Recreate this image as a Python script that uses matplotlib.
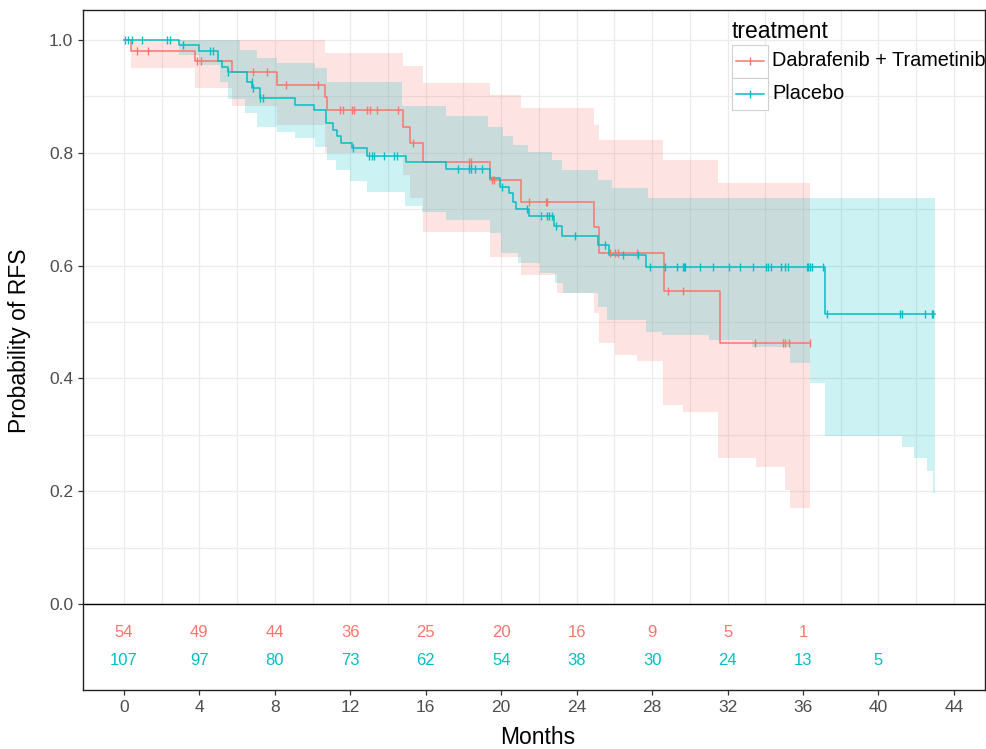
import numpy as np
import matplotlib
matplotlib.use('Agg')
import matplotlib.pyplot as plt
from matplotlib.lines import Line2D
from matplotlib.patches import Rectangle

plt.rcParams['font.family'] = ['Liberation Sans', 'DejaVu Sans']

# Kaplan-Meier curves (step times, survival after step)
red_t = [0, 0.4, 3.77, 5.71, 8.1, 10.66, 10.75, 14.77, 15.16, 15.87, 19.4, 21.03,
         24.9, 25.2, 28.63, 31.6, 36.37]
red_s = [1.0, 0.981, 0.962, 0.943, 0.920, 0.898, 0.876, 0.846, 0.817, 0.784, 0.752,
         0.712, 0.669, 0.623, 0.554, 0.463, 0.463]

blue_t = [0, 2.92, 3.98, 5.0, 5.2, 5.5, 6.5, 6.8, 7.2, 9.07, 10.1, 10.7, 11.1, 11.3,
          11.5, 12.1, 12.9, 14.95, 17.1, 19.4, 19.96, 20.4, 20.64, 20.8, 21.5, 22.8,
          23.2, 25.15, 25.7, 27.7, 37.17, 43.0]
blue_s = [1.0, 0.991, 0.981, 0.962, 0.952, 0.943, 0.925, 0.915, 0.897, 0.884, 0.875,
          0.853, 0.840, 0.829, 0.818, 0.808, 0.794, 0.783, 0.771, 0.755, 0.740, 0.728,
          0.713, 0.700, 0.687, 0.670, 0.652, 0.637, 0.619, 0.598, 0.514, 0.514]

# censoring times
red_cens = [0.67, 1.3, 3.85, 4.1, 6.86, 7.57, 8.57, 10.3, 11.45, 11.6, 12.07, 12.2,
            12.86, 13.04, 13.43, 14.55, 15.3, 18.3, 18.4, 19.5, 19.6, 21.5, 22.4, 22.45,
            25.77, 26.03, 26.2, 27.2, 28.86, 29.62, 33.46, 34.96, 35.05, 35.28, 36.37]
blue_cens = [0.05, 0.23, 0.41, 0.94, 2.26, 2.44, 3.15, 4.56, 4.74, 5.53, 6.77, 6.86,
             7.21, 7.35, 12.16, 13.0, 13.13, 13.25, 13.78, 14.32, 14.46, 17.73, 18.31,
             18.38, 18.61, 18.96, 20.03, 21.35, 22.09, 22.41, 22.55, 22.67, 22.9, 23.9,
             25.5, 26.48, 27.27, 27.89, 28.69, 29.3, 29.62, 29.69, 29.75, 30.54, 31.21,
             32.09, 32.66, 33.33, 34.04, 34.16, 34.29, 34.82, 35.05, 35.22, 36.23, 36.28,
             36.37, 36.46, 37.04, 37.26, 41.15, 41.23, 42.47, 42.83, 42.91]

# confidence bands
red_band_t = [0, 0.4, 3.77, 5.71, 8.1, 10.66, 14.77, 15.16, 15.87, 19.4, 21.03, 22.94,
              24.9, 25.2, 26.03, 27.2, 28.6, 29.66, 31.5, 33.5, 35.05, 35.3, 36.37]
red_upper = [1.0, 1.0, 1.0, 1.0, 1.0, 0.976, 0.953, 0.953, 0.923, 0.902, 0.879, 0.879,
             0.85, 0.823, 0.823, 0.823, 0.787, 0.787, 0.746, 0.746, 0.746, 0.746, 0.746]
red_lower = [1.0, 0.95, 0.914, 0.882, 0.85, 0.80, 0.76, 0.72, 0.66, 0.616, 0.583, 0.551,
             0.516, 0.462, 0.441, 0.43, 0.353, 0.341, 0.258, 0.243, 0.202, 0.17, 0.17]

blue_band_t = [0, 2.92, 3.98, 5.09, 5.5, 6.15, 6.42, 7.03, 8.1, 9.07, 10.13, 10.75,
               11.25, 12.0, 12.87, 14.72, 14.9, 15.8, 17.1, 19.32, 19.4, 20.0, 20.11,
               20.64, 20.9, 21.44, 22.06, 22.68, 22.85, 23.21, 23.3, 25.15, 25.6, 25.86,
               27.7, 27.8, 28.5, 31.0, 33.3, 35.3, 36.37, 37.17, 41.25, 41.9, 42.56,
               42.91, 43.0]
blue_upper = [1.0, 1.0, 1.0, 1.0, 1.0, 0.982, 0.982, 0.968, 0.959, 0.959, 0.95, 0.926,
              0.926, 0.926, 0.926, 0.882, 0.882, 0.882, 0.866, 0.846, 0.846, 0.846,
              0.829, 0.814, 0.814, 0.802, 0.802, 0.787, 0.787, 0.770, 0.770, 0.752,
              0.752, 0.737, 0.737, 0.72, 0.72, 0.72, 0.72, 0.72, 0.72, 0.72, 0.72,
              0.72, 0.72, 0.72, 0.72]
blue_lower = [1.0, 0.973, 0.955, 0.925, 0.895, 0.895, 0.87, 0.846, 0.836, 0.826, 0.811,
              0.787, 0.77, 0.75, 0.73, 0.73, 0.705, 0.695, 0.681, 0.681, 0.657, 0.622,
              0.622, 0.622, 0.604, 0.604, 0.586, 0.586, 0.569, 0.569, 0.551, 0.527,
              0.504, 0.504, 0.483, 0.483, 0.477, 0.468, 0.456, 0.427, 0.391, 0.297,
              0.278, 0.258, 0.235, 0.197, 0.197]

# numbers at risk
risk_times = [0, 4, 8, 12, 16, 20, 24, 28, 32, 36, 40]
red_risk = [54, 49, 44, 36, 25, 20, 16, 9, 5, 1]
blue_risk = [107, 97, 80, 73, 62, 54, 38, 30, 24, 13, 5]

labels = ['Dabrafenib + Trametinib', 'Placebo']
red = '#F8766D'
blue = '#00BFC4'


def step_value(t_steps, s_steps, t):
    i = np.searchsorted(t_steps, t, side='right') - 1
    return np.asarray(s_steps)[i]


fig = plt.figure(figsize=(9.86, 7.49), dpi=100)
ax = fig.add_axes([0.0842, 0.0788, 0.9148, 0.9078])
ax.set_xlim(-2.17, 45.65)
ax.set_ylim(-0.1525, 1.053)

# grid only over the survival panel
for gx in np.arange(0, 46, 2):
    ax.plot([gx, gx], [0, 1.053], color='#EBEBEB', lw=0.9, zorder=0)
for gy in np.arange(0.1, 1.05, 0.1):
    ax.axhline(gy, color='#EBEBEB', lw=0.9, zorder=0)
ax.axhline(0, color='black', lw=1.0, zorder=1)

ax.fill_between(red_band_t, red_lower, red_upper, step='post', color=red, alpha=0.2,
                lw=0, zorder=2)
ax.fill_between(blue_band_t, blue_lower, blue_upper, step='post', color=blue, alpha=0.2,
                lw=0, zorder=2)

ax.step(red_t, red_s, where='post', color=red, lw=1.1, zorder=3)
ax.step(blue_t, blue_s, where='post', color=blue, lw=1.1, zorder=3)
ax.plot(red_cens, step_value(red_t, red_s, red_cens), ls='none', marker='|', ms=6,
        mew=1.0, color=red, zorder=4)
ax.plot(blue_cens, step_value(blue_t, blue_s, blue_cens), ls='none', marker='|', ms=6,
        mew=1.0, color=blue, zorder=4)

# risk table
for t, n in zip(risk_times, red_risk):
    ax.text(t, -0.051, str(n), color=red, ha='center', va='center', fontsize=12)
for t, n in zip(risk_times, blue_risk):
    ax.text(t, -0.101, str(n), color=blue, ha='center', va='center', fontsize=12)

ax.set_xticks(np.arange(0, 45, 4))
ax.set_yticks(np.arange(0, 1.01, 0.2))
ax.set_yticklabels(['%.1f' % v for v in np.arange(0, 1.01, 0.2)])
ax.tick_params(axis='both', labelsize=12.5, labelcolor='#4D4D4D', color='#333333',
               length=3.5, width=0.9, pad=3.5)
for sp in ax.spines.values():
    sp.set_color('#222222')
    sp.set_linewidth(1.0)

fig.text(20 / 986, 1 - 341 / 749, 'Probability of RFS', rotation=90, ha='center',
         va='center', fontsize=16.5)
fig.text(538 / 986, 1 - 737 / 749, 'Months', ha='center', va='center', fontsize=16.5)

# legend drawn by hand (ggplot style keys)
W, H = 986, 749
fig.text(732 / W, 1 - 31 / H, 'treatment', ha='left', va='center', fontsize=16.5)
for k, (lab, col) in enumerate(zip(labels, [red, blue])):
    top = 45 + k * 32.5
    fig.patches.append(Rectangle((732 / W, 1 - (top + 32.5) / H), 36 / W, 32.5 / H,
                                 transform=fig.transFigure, facecolor='white',
                                 edgecolor='#D0D0D0', lw=0.8))
    yc = 1 - (top + 16) / H
    fig.lines.append(Line2D([736 / W, 764 / W], [yc, yc], transform=fig.transFigure,
                            color=col, lw=1.1))
    fig.lines.append(Line2D([750 / W], [yc], transform=fig.transFigure, color=col,
                            marker='|', ms=6, mew=1.0))
    fig.text(772 / W, yc, lab, ha='left', va='center', fontsize=14.3)

fig.savefig('out.png', dpi=100)
